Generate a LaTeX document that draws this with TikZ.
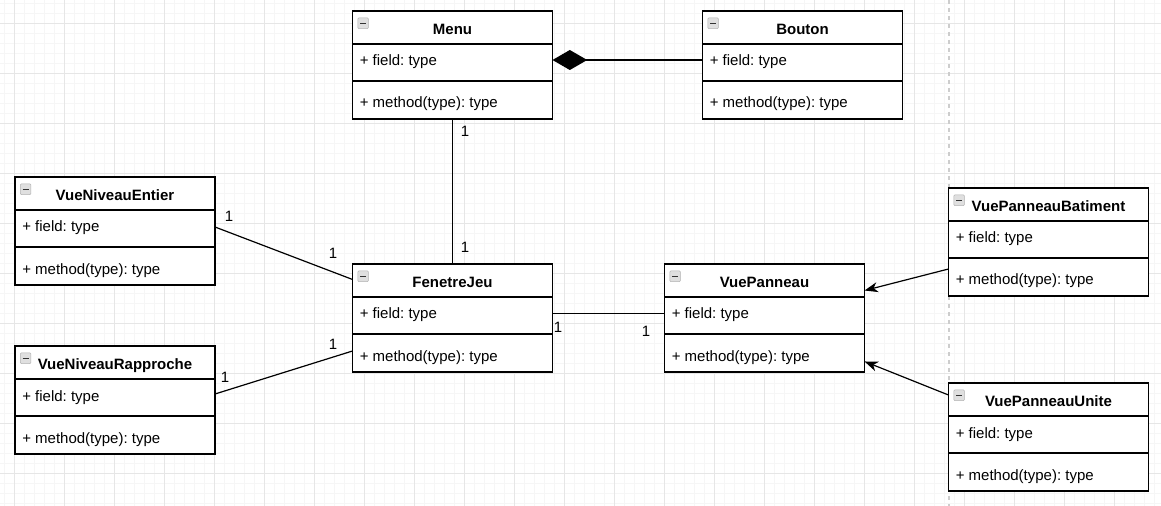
\documentclass[tikz,border=0pt]{standalone}
\usepackage{fontspec}
\setmainfont{Liberation Sans}
\frenchspacing
\usetikzlibrary{positioning}
\usetikzlibrary{arrows.meta}

\definecolor{minorline}{RGB}{246,246,246}
\definecolor{majorline}{RGB}{230,230,230}
\definecolor{pagebreak}{RGB}{205,205,205}

\tikzset{
classbox/.style={rectangle,draw=black,line width=1pt,fill=white,minimum width=150pt,minimum height=81pt,inner sep=0pt,outer sep=0pt},
classname/.style={font=\fontsize{11.25}{13.5}\selectfont\bfseries,text=black,inner sep=0pt,anchor=base},
member/.style={font=\fontsize{11.25}{13.5}\selectfont,text=black,inner sep=0pt,anchor=base west},
mult/.style={font=\fontsize{11.25}{13.5}\selectfont,text=black,inner sep=0pt},
divider/.style={draw=black,line width=1pt},
foldicon/.style={rectangle,draw=gray!60,fill=gray!25,rounded corners=0.8pt,minimum size=8pt,inner sep=0pt,anchor=north west,
  path picture={\draw[gray!40!black,line width=1pt] ([xshift=1.7pt]path picture bounding box.west) -- ([xshift=-1.7pt]path picture bounding box.east);}},
link/.style={draw=black,line width=0.9pt},
inherit/.style={link,-{Stealth[length=10pt,width=7.5pt,inset=3pt]}},
}

\begin{document}
\begin{tikzpicture}[x=0.75pt,y=-0.75pt]
\fill[white] (0,0) rectangle (1161,506);
\useasboundingbox (0,0) rectangle (1161,506);

% grid
\foreach \gx in {4,14,...,1154} \draw[minorline,line width=0.6pt] (\gx,0) -- (\gx,506);
\foreach \gy in {3,13,...,503} \draw[minorline,line width=0.6pt] (0,\gy) -- (1161,\gy);
\foreach \gx in {14,64,...,1114} \draw[majorline,line width=0.6pt] (\gx,0) -- (\gx,506);
\foreach \gy in {23,73,...,473} \draw[majorline,line width=0.6pt] (0,\gy) -- (1161,\gy);
\draw[pagebreak,line width=0.8pt,dash pattern=on 3pt off 3pt] (949,0) -- (949,506);

% Menu
\node[classbox] (menu) at (452.5,65) {};
\node[foldicon] (menuI) at ([xshift=3.75pt,yshift=-5pt]menu.north west) {};
\node[classname] (menuN) at ([yshift=-17.5pt]menu.north) {Menu};
\draw[divider] ([yshift=-24.75pt]menu.north west) -- ([yshift=-24.75pt]menu.north east);
\node[member] (menuF) at ([xshift=5.25pt,yshift=-41.25pt]menu.north west) {+ field: type};
\draw[divider] ([yshift=-52.5pt]menu.north west) -- ([yshift=-52.5pt]menu.north east);
\node[member] (menuM) at ([xshift=5.25pt,yshift=-72.75pt]menu.north west) {+ method(type): type};

% Bouton
\node[classbox,right=112.5pt of menu] (bouton) {};
\node[foldicon] (boutonI) at ([xshift=3.75pt,yshift=-5pt]bouton.north west) {};
\node[classname] (boutonN) at ([yshift=-17.5pt]bouton.north) {Bouton};
\draw[divider] ([yshift=-24.75pt]bouton.north west) -- ([yshift=-24.75pt]bouton.north east);
\node[member] (boutonF) at ([xshift=5.25pt,yshift=-41.25pt]bouton.north west) {+ field: type};
\draw[divider] ([yshift=-52.5pt]bouton.north west) -- ([yshift=-52.5pt]bouton.north east);
\node[member] (boutonM) at ([xshift=5.25pt,yshift=-72.75pt]bouton.north west) {+ method(type): type};

% FenetreJeu
\node[classbox,below=108.75pt of menu] (fenetre) {};
\node[foldicon] (fenetreI) at ([xshift=3.75pt,yshift=-5pt]fenetre.north west) {};
\node[classname] (fenetreN) at ([yshift=-17.5pt]fenetre.north) {FenetreJeu};
\draw[divider] ([yshift=-24.75pt]fenetre.north west) -- ([yshift=-24.75pt]fenetre.north east);
\node[member] (fenetreF) at ([xshift=5.25pt,yshift=-41.25pt]fenetre.north west) {+ field: type};
\draw[divider] ([yshift=-52.5pt]fenetre.north west) -- ([yshift=-52.5pt]fenetre.north east);
\node[member] (fenetreM) at ([xshift=5.25pt,yshift=-72.75pt]fenetre.north west) {+ method(type): type};

% VuePanneau
\node[classbox,right=84pt of fenetre] (panneau) {};
\node[foldicon] (panneauI) at ([xshift=3.75pt,yshift=-5pt]panneau.north west) {};
\node[classname] (panneauN) at ([yshift=-17.5pt]panneau.north) {VuePanneau};
\draw[divider] ([yshift=-24.75pt]panneau.north west) -- ([yshift=-24.75pt]panneau.north east);
\node[member] (panneauF) at ([xshift=5.25pt,yshift=-41.25pt]panneau.north west) {+ field: type};
\draw[divider] ([yshift=-52.5pt]panneau.north west) -- ([yshift=-52.5pt]panneau.north east);
\node[member] (panneauM) at ([xshift=5.25pt,yshift=-72.75pt]panneau.north west) {+ method(type): type};

% VueNiveauEntier
\node[classbox] (entier) at (115,231) {};
\node[foldicon] (entierI) at ([xshift=3.75pt,yshift=-5pt]entier.north west) {};
\node[classname] (entierN) at ([yshift=-17.5pt]entier.north) {VueNiveauEntier};
\draw[divider] ([yshift=-24.75pt]entier.north west) -- ([yshift=-24.75pt]entier.north east);
\node[member] (entierF) at ([xshift=5.25pt,yshift=-41.25pt]entier.north west) {+ field: type};
\draw[divider] ([yshift=-52.5pt]entier.north west) -- ([yshift=-52.5pt]entier.north east);
\node[member] (entierM) at ([xshift=5.25pt,yshift=-72.75pt]entier.north west) {+ method(type): type};

% VueNiveauRapproche
\node[classbox] (rapproche) at (115,400) {};
\node[foldicon] (rapprocheI) at ([xshift=3.75pt,yshift=-5pt]rapproche.north west) {};
\node[classname] (rapprocheN) at ([yshift=-17.5pt]rapproche.north) {VueNiveauRapproche};
\draw[divider] ([yshift=-24.75pt]rapproche.north west) -- ([yshift=-24.75pt]rapproche.north east);
\node[member] (rapprocheF) at ([xshift=5.25pt,yshift=-41.25pt]rapproche.north west) {+ field: type};
\draw[divider] ([yshift=-52.5pt]rapproche.north west) -- ([yshift=-52.5pt]rapproche.north east);
\node[member] (rapprocheM) at ([xshift=5.25pt,yshift=-72.75pt]rapproche.north west) {+ method(type): type};

% VuePanneauBatiment
\node[classbox] (batiment) at (1048.5,242) {};
\node[foldicon] (batimentI) at ([xshift=3.75pt,yshift=-5pt]batiment.north west) {};
\node[classname] (batimentN) at ([yshift=-17.5pt]batiment.north) {VuePanneauBatiment};
\draw[divider] ([yshift=-24.75pt]batiment.north west) -- ([yshift=-24.75pt]batiment.north east);
\node[member] (batimentF) at ([xshift=5.25pt,yshift=-41.25pt]batiment.north west) {+ field: type};
\draw[divider] ([yshift=-52.5pt]batiment.north west) -- ([yshift=-52.5pt]batiment.north east);
\node[member] (batimentM) at ([xshift=5.25pt,yshift=-72.75pt]batiment.north west) {+ method(type): type};

% VuePanneauUnite
\node[classbox] (unite) at (1048.5,437) {};
\node[foldicon] (uniteI) at ([xshift=3.75pt,yshift=-5pt]unite.north west) {};
\node[classname] (uniteN) at ([yshift=-17.5pt]unite.north) {VuePanneauUnite};
\draw[divider] ([yshift=-24.75pt]unite.north west) -- ([yshift=-24.75pt]unite.north east);
\node[member] (uniteF) at ([xshift=5.25pt,yshift=-41.25pt]unite.north west) {+ field: type};
\draw[divider] ([yshift=-52.5pt]unite.north west) -- ([yshift=-52.5pt]unite.north east);
\node[member] (uniteM) at ([xshift=5.25pt,yshift=-72.75pt]unite.north west) {+ method(type): type};

% connectors
\draw[link,{Diamond[length=26pt,width=15pt]}-] ([yshift=3.75pt]menu.east) -- ([yshift=3.75pt]bouton.west);
\draw[link] (menu.south) -- (fenetre.north);
\draw[link] ([yshift=3pt]entier.east) -- ([yshift=28.9pt]fenetre.west);
\draw[link] ([yshift=4.5pt]rapproche.east) -- ([yshift=-24.75pt]fenetre.west);
\draw[link] ([yshift=3.4pt]fenetre.east) -- ([yshift=3.4pt]panneau.west);
\draw[inherit] ([yshift=-20.25pt]batiment.west) -- ([yshift=20.6pt]panneau.east);
\draw[inherit] ([yshift=31.5pt]unite.west) -- ([yshift=-32.6pt]panneau.east);

% multiplicities
\node[mult] (m1) at (465,131) {1};
\node[mult] (m2) at (465,247) {1};
\node[mult] (m3) at (229,216) {1};
\node[mult] (m4) at (333,253) {1};
\node[mult] (m5) at (225,377) {1};
\node[mult] (m6) at (333,344) {1};
\node[mult] (m7) at (558,327) {1};
\node[mult] (m8) at (646,331) {1};
\end{tikzpicture}
\end{document}
